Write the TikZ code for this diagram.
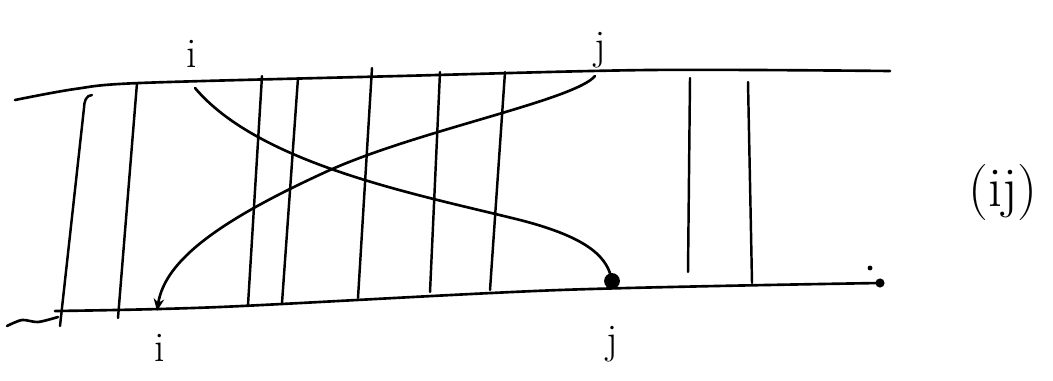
\documentclass[tikz,border=0pt]{standalone}
\usetikzlibrary{arrows.meta}
\begin{document}
\begin{tikzpicture}[x=0.02cm,y=-0.02cm,>={Stealth[length=7pt,width=6pt]},
 line width=1.5pt,line cap=round,line join=round,
 lbl/.style={font=\fontsize{24}{24}\selectfont},
 strand/.style={line width=1.4pt}]
\useasboundingbox (0,0) rectangle (1053,381);
% rails
\draw plot[smooth] coordinates {(15,100) (75,89) (140,83) (400,76) (650,70) (890,71)};
\draw plot[smooth] coordinates {(7,326) (22,320) (38,322) (58,317)};
\draw plot[smooth] coordinates {(55,311) (220,307) (560,290) (880,283)};
\fill (880,283) circle (2.6pt);
\fill (870,268) circle (1.4pt);
% plain strands
\draw[strand] (92,95) to[out=180,in=90] (84,108) -- (60,326);
\foreach \xt/\yt/\xb/\yb in {137/83/118/318, 262/76/248/305, 298/78/282/303,
  372/68/358/298, 440/72/430/292, 505/72/490/290, 690/78/688/272, 748/82/752/283}
  \draw[strand] (\xt,\yt) -- (\xb,\yb);
% crossing strands
\coordinate (iTop) at (195,88);
\coordinate (jTop) at (595,76);
\coordinate (iBot) at (157,311);
\coordinate (jBot) at (612,281);
\draw (iTop) .. controls (260,165) and (420,195) .. (520,220)
  .. controls (590,238) and (608,258) .. (jBot);
\fill (jBot) circle (4.5pt);
\draw[->] (jTop) .. controls (575,100) and (420,130) .. (330,170)
  .. controls (220,220) and (165,260) .. (iBot);
% labels
\node[lbl] (ti) at (192,54) {i};
\node[lbl] (tj) at (600,50) {j};
\node[lbl] (bi) at (160,348) {i};
\node[lbl] (bj) at (612,344) {j};
\node[font=\fontsize{32}{32}\selectfont] (perm) at (1003,192) {(ij)};
\end{tikzpicture}
\end{document}
